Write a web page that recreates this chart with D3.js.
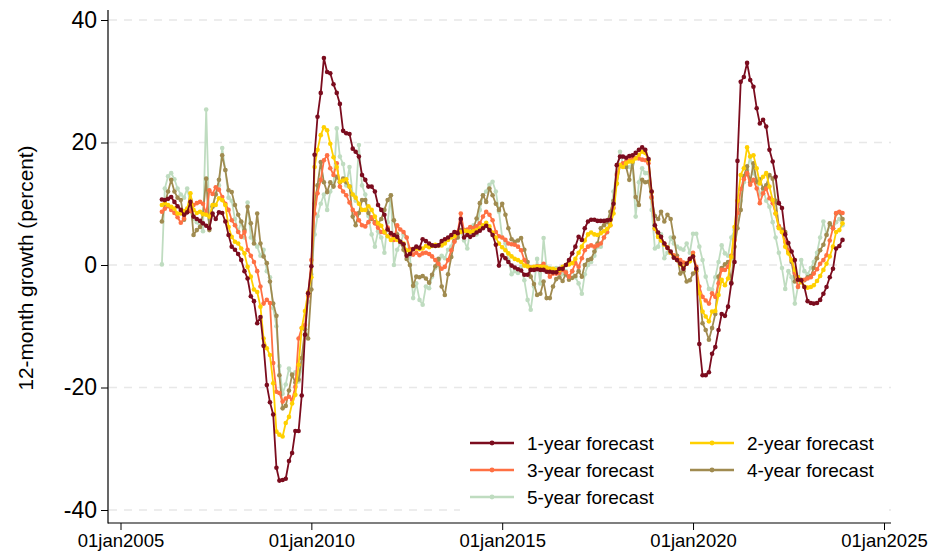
<!DOCTYPE html>
<html>
<head>
<meta charset="utf-8">
<script src="https://cdn.jsdelivr.net/npm/d3@7"></script>
<style>
  html, body { margin: 0; padding: 0; background: #fff; }
  svg { display: block; font-family: "Liberation Sans", Arial, Helvetica, sans-serif; }
</style>
</head>
<body>
<script>
// Monthly observations, February 2006 through December 2023
const startYear = 2006, startMonth = 1; // February (0-based month)

const seriesNames = ["1-year forecast", "2-year forecast", "3-year forecast", "4-year forecast", "5-year forecast"];
const seriesColors = ["#7b0c1e", "#ffd000", "#ff7043", "#a08b50", "#bfdcc0"];

const oneYear = [10.7,10.6,10.8,11.1,10.3,9.6,9.0,8.2,8.6,10.3,7.9,7.5,7.2,6.8,6.4,6.0,8.4,7.5,8.6,8.5,7.1,4.9,3.0,2.5,1.8,0.8,-1.0,-2.2,-5.1,-5.9,-9.5,-8.5,-13.2,-19.6,-22.4,-24.4,-33.1,-35.2,-35.1,-34.9,-32.0,-30.7,-27.1,-27.1,-21.3,-11.4,-4.6,-0.2,18.0,24.2,28.1,33.8,31.5,31.3,29.5,28.1,26.3,21.9,21.5,21.4,19.0,18.5,17.7,14.7,13.9,12.8,12.8,12.0,9.8,9.0,8.2,5.8,5.2,4.9,4.6,3.8,3.4,1.5,1.8,2.6,3.0,2.8,4.2,3.9,3.5,3.2,3.1,3.2,3.9,4.2,4.5,4.9,5.4,5.2,7.5,4.5,4.9,4.6,4.9,5.3,5.6,6.0,6.4,5.7,4.9,3.3,-0.1,1.6,1.1,0.5,-0.1,-0.4,-0.7,-0.9,-1.6,-1.6,-0.8,-0.8,-0.7,-0.8,-0.8,-1.1,-1.1,-1.2,-1.2,-0.6,-0.6,0.0,0.8,1.9,3.0,4.6,4.1,6.0,7.1,7.4,7.4,7.2,7.2,7.2,7.3,7.4,10.0,16.3,17.7,17.7,17.5,17.8,17.9,18.3,18.8,19.2,18.8,17.3,12.0,6.5,5.3,4.6,3.5,2.8,2.2,1.2,0.8,0.2,-0.6,0.2,1.0,1.4,-0.6,-12.9,-18.0,-18.0,-17.5,-14.5,-13.4,-10.6,-8.0,-8.3,-6.8,-3.0,0.5,17.0,29.9,30.7,33.0,30.2,29.1,25.6,23.1,23.7,22.6,18.8,16.9,14.4,10.1,9.3,5.0,3.6,2.2,0.8,-2.4,-2.5,-3.6,-5.9,-6.2,-6.3,-6.2,-5.7,-4.7,-3.6,-2.0,-0.6,2.7,3.1,4.1];

const twoYear = [9.8,10.1,9.8,9.5,9.2,8.4,8.4,8.8,9.2,11.7,9.0,8.5,8.7,8.3,8.2,7.9,9.8,9.8,10.9,10.6,9.8,6.2,4.6,3.8,3.5,2.7,1.9,-0.3,-1.9,-4.0,-4.4,-6.8,-12.0,-13.6,-14.7,-19.3,-27.2,-27.7,-28.0,-25.8,-24.8,-22.6,-21.2,-16.3,-10.3,-7.5,-4.5,-2.0,16.0,18.8,21.2,22.5,22.0,19.8,17.6,16.0,13.6,13.8,14.0,12.8,11.5,11.0,10.0,9.0,9.0,9.6,9.0,7.9,6.8,6.4,5.4,4.7,4.1,4.4,4.1,3.8,3.5,2.4,2.2,2.6,2.7,2.6,2.7,3.1,2.9,3.1,3.3,3.2,3.2,3.5,4.1,4.5,4.7,5.2,5.4,5.6,5.5,5.4,5.5,5.7,6.0,6.5,6.9,6.3,5.3,4.5,3.5,2.9,2.4,1.9,1.4,1.0,0.8,0.5,-0.1,-0.2,-0.4,-0.3,-0.3,-0.3,-0.3,-0.4,-0.6,-0.6,-0.8,-0.8,-0.3,0.0,0.1,0.3,1.0,2.0,3.0,4.0,5.0,5.3,5.0,4.9,5.2,5.5,5.9,6.5,8.4,13.3,16.3,16.0,16.6,16.9,16.9,17.4,18.0,18.5,18.3,17.1,11.9,6.0,4.6,4.0,3.3,2.8,2.0,1.3,0.8,0.1,-0.4,0.2,0.6,1.5,-0.8,-4.6,-7.6,-8.4,-9.2,-7.6,-7.5,-4.9,-2.4,-3.3,-2.2,1.3,6.2,10.5,14.7,15.8,19.2,17.7,17.9,15.8,13.3,14.4,15.0,12.8,10.6,8.4,6.0,5.4,3.0,1.9,0.8,-0.8,-2.0,-2.8,-3.5,-3.7,-3.6,-3.3,-2.6,-1.8,-0.8,0.2,1.4,3.0,5.4,5.7,6.8];

const threeYear = [8.7,9.2,9.6,9.0,8.5,7.8,6.9,7.6,9.0,8.8,9.8,10.1,10.3,10.0,8.4,12.2,11.6,12.7,12.3,11.1,10.0,9.0,7.3,6.5,5.4,4.6,5.4,2.5,1.5,0.5,-1.0,-3.5,-6.3,-5.7,-6.2,-16.0,-20.7,-20.9,-22.3,-21.8,-21.5,-22.0,-19.9,-12.0,-10.3,-9.8,-5.0,0.8,8.4,11.7,13.9,17.1,17.9,15.8,14.7,16.6,12.8,12.0,11.4,10.2,9.0,8.4,7.3,6.5,6.3,7.0,7.8,6.8,6.1,5.4,5.3,6.1,5.0,4.1,6.5,5.8,5.4,4.5,2.6,1.7,2.0,1.6,1.9,2.0,1.8,1.4,0.8,0.2,-0.6,-0.3,0.8,2.4,3.8,5.4,8.4,5.6,5.8,6.2,6.0,6.3,6.8,7.9,8.7,8.2,7.3,5.4,4.7,4.5,4.1,3.5,3.4,3.3,3.0,2.4,0.8,-0.2,-0.4,-0.5,-0.2,-0.2,0.2,-0.9,-1.9,-1.4,-1.4,-1.3,-0.8,-1.2,-1.9,-1.0,0.3,-0.3,1.1,2.4,3.0,3.2,3.0,3.2,3.5,4.5,5.4,6.5,9.3,14.7,16.3,16.6,16.9,17.1,17.4,17.5,17.4,17.2,17.1,16.6,11.1,5.9,4.6,4.1,3.5,2.9,2.0,1.6,1.1,0.8,0.4,0.3,0.9,2.0,-0.3,-3.5,-5.2,-5.8,-6.3,-4.6,-5.2,-3.0,-0.8,-0.8,-0.3,1.5,4.1,8.5,12.4,14.0,15.0,13.1,13.9,12.5,10.1,11.7,12.5,10.9,10.1,8.4,6.3,5.4,3.8,2.4,0.8,-1.3,-3.6,-2.6,-2.4,-2.2,-2.0,-1.4,-0.7,0.2,0.8,1.6,4.0,6.0,8.5,8.7,8.5];

const fourYear = [7.1,10.0,12.0,13.9,12.0,11.0,10.6,7.4,9.0,10.6,4.9,5.7,6.2,8.4,14.1,5.7,9.5,11.5,13.9,17.9,15.5,12.2,11.9,9.8,8.2,7.1,5.7,9.5,6.8,3.5,8.4,3.5,1.4,0.3,-2.7,-6.3,-8.3,-18.0,-23.4,-23.0,-20.5,-17.9,-19.2,-18.7,-15.2,-10.5,-12.0,-4.0,10.0,13.0,16.8,13.5,11.9,13.5,12.8,14.4,13.5,14.1,13.5,12.8,7.9,6.5,8.5,10.6,10.6,8.5,7.5,7.0,6.8,7.5,9.0,10.6,11.4,7.3,5.0,3.8,2.5,1.0,0.0,-3.4,-1.9,-2.0,-1.8,-2.2,-2.9,-1.6,-0.2,1.0,-3.5,-4.9,-1.5,1.3,3.9,4.5,5.7,5.7,5.5,5.4,6.0,7.6,10.1,11.4,10.3,12.5,11.4,10.0,9.0,10.0,8.2,6.0,4.2,3.8,4.0,4.4,2.5,0.5,-1.9,-3.1,-4.9,-4.7,-2.7,-5.4,-5.4,-3.5,-2.3,-2.0,-2.6,-1.5,-2.4,-2.1,-1.8,-1.0,-1.9,0.0,0.8,1.0,2.2,3.5,6.0,6.5,7.0,8.7,10.5,13.3,16.3,16.5,16.0,13.9,16.8,11.1,9.8,13.9,13.5,13.6,11.0,8.0,7.5,8.7,7.1,8.2,7.5,4.5,1.5,-1.4,-1.0,-2.7,-2.5,-1.4,-1.0,-4.5,-9.5,-10.6,-12.2,-10.3,-8.0,-1.9,-0.5,0.1,0.5,-2.9,3.0,6.0,9.0,14.5,16.1,13.5,16.6,13.5,14.0,12.5,13.0,14.7,14.1,10.5,6.3,5.8,5.4,2.2,0.5,-2.7,-2.0,-2.4,-2.5,-2.0,-1.8,-0.5,1.1,2.4,3.3,4.9,6.8,6.0,8.4,8.6,7.5];

const fiveYear = [0.1,12.5,14.5,15.0,14.0,12.5,11.5,11.0,12.5,10.0,7.5,7.0,6.3,5.5,25.4,7.5,9.6,11.6,13.0,19.1,15.5,11.0,10.5,7.5,5.5,7.0,4.5,10.2,4.5,4.0,3.0,1.5,2.5,-1.0,-2.0,-7.0,-10.0,-16.5,-21.0,-19.5,-16.9,-18.0,-17.5,-19.0,-17.0,-10.5,-6.0,-1.5,5.0,8.0,10.0,11.5,9.0,12.0,13.0,22.3,17.7,16.5,13.0,16.0,11.5,10.5,19.6,13.0,11.5,8.0,5.0,3.0,5.5,4.5,2.0,7.0,11.4,0.0,2.5,3.5,5.0,4.5,1.5,-5.4,-3.0,-5.7,-6.5,-3.5,-3.8,-1.9,-0.5,0.0,1.5,1.1,2.5,3.0,5.0,4.5,5.5,4.0,2.7,5.5,6.5,5.0,9.0,11.4,12.0,13.1,13.6,12.0,8.7,4.5,3.5,0.8,-1.5,-1.0,-1.3,-0.3,-2.5,-5.7,-7.3,-3.5,1.0,-3.0,4.4,-0.5,-0.5,-1.0,-0.5,-1.0,-1.5,-1.0,-2.0,-1.0,-2.0,-3.0,-4.7,-1.5,0.0,0.5,1.5,3.0,3.0,4.5,5.3,8.0,12.0,15.0,18.5,16.5,16.0,16.0,16.5,7.9,13.5,15.8,15.0,15.0,9.0,2.7,3.0,5.0,1.1,2.0,4.5,3.5,3.0,2.7,2.5,3.5,2.0,5.1,5.1,3.0,0.8,-1.9,-3.9,-4.0,-2.0,0.5,3.2,1.9,1.5,4.5,5.7,7.5,10.5,13.5,15.5,17.7,15.0,14.0,11.5,12.5,10.5,9.5,7.0,4.5,2.0,-0.5,-3.9,-1.0,-2.0,-6.3,-3.5,0.8,-1.0,-1.5,-0.5,0.5,2.0,4.5,7.1,5.0,6.5,6.0,7.0,7.5,6.5];

const seriesValues = [oneYear, twoYear, threeYear, fourYear, fiveYear];

const yTicks = [-40, -20, 0, 20, 40];
const xTickYears = [2005, 2010, 2015, 2020, 2025];
const xTickLabels = ["01jan2005", "01jan2010", "01jan2015", "01jan2020", "01jan2025"];
const yTitle = "12-month growth (percent)";

// ---- layout ----
const W = 929, H = 556;
const axisX = 108, axisY = 523, plotTop = 10, plotRight = 891;

const svg = d3.select("body").append("svg").attr("width", W).attr("height", H);

const x = d3.scaleTime()
  .domain([new Date(2005, 0, 1), new Date(2025, 0, 1)])
  .range([120.5, 884]);
const y = d3.scaleLinear().domain([-40, 40]).range([510, 20]);

const dates = oneYear.map((_, i) => new Date(startYear, startMonth + i, 1));

// horizontal grid
svg.append("g").selectAll("line").data(yTicks).join("line")
  .attr("x1", axisX + 1).attr("x2", plotRight)
  .attr("y1", d => y(d)).attr("y2", d => y(d))
  .attr("stroke", "#e8e8e8").attr("stroke-width", 1.5)
  .attr("stroke-dasharray", "8,7");

// series: drawn from longest horizon to shortest so the 1-year line sits on top
const line = d3.line().x((d, i) => x(dates[i])).y(d => y(d));
const order = [4, 3, 2, 1, 0];
order.forEach(k => {
  const g = svg.append("g");
  g.append("path").datum(seriesValues[k])
    .attr("d", line).attr("fill", "none")
    .attr("stroke", seriesColors[k]).attr("stroke-width", 1.8)
    .attr("stroke-linejoin", "round");
  g.selectAll("circle").data(seriesValues[k]).join("circle")
    .attr("cx", (d, i) => x(dates[i])).attr("cy", d => y(d))
    .attr("r", 2.3).attr("fill", seriesColors[k]);
});

// axes
const yAxis = d3.axisLeft(y).tickValues(yTicks).tickSize(7).tickPadding(4).tickSizeOuter(0)
  .tickFormat(d => String(d));
const gy = svg.append("g").attr("transform", `translate(${axisX},0)`).call(yAxis);
gy.select(".domain").remove();
gy.selectAll(".tick line").attr("stroke", "#000").attr("stroke-width", 1);
gy.selectAll(".tick text").attr("font-size", 23).attr("fill", "#000")
  .attr("font-family", "'Liberation Sans', Arial, sans-serif");

const xTickDates = xTickYears.map(yr => new Date(yr, 0, 1));
const xAxis = d3.axisBottom(x).tickValues(xTickDates).tickSize(7).tickPadding(4).tickSizeOuter(0)
  .tickFormat((d, i) => xTickLabels[i]);
const gx = svg.append("g").attr("transform", `translate(0,${axisY})`).call(xAxis);
gx.select(".domain").remove();
gx.selectAll(".tick line").attr("stroke", "#000").attr("stroke-width", 1);
gx.selectAll(".tick text").attr("font-size", 18.5).attr("fill", "#000")
  .attr("font-family", "'Liberation Sans', Arial, sans-serif");

svg.append("line").attr("x1", axisX).attr("x2", axisX).attr("y1", plotTop).attr("y2", axisY + 0.5)
  .attr("stroke", "#000").attr("stroke-width", 1.2);
svg.append("line").attr("x1", axisX).attr("x2", plotRight).attr("y1", axisY).attr("y2", axisY)
  .attr("stroke", "#000").attr("stroke-width", 1.2);

svg.append("text")
  .attr("transform", `translate(33,268) rotate(-90)`)
  .attr("text-anchor", "middle").attr("font-size", 20.8).attr("fill", "#000")
  .text(yTitle);

// legend
const legend = svg.append("g");
legend.append("rect").attr("x", 460).attr("y", 426).attr("width", 428).attr("height", 86).attr("fill", "#fff");
const legPos = [[470, 443], [690, 443], [470, 470], [690, 470], [470, 497]];
seriesNames.forEach((name, k) => {
  const [lx, ly] = legPos[k];
  legend.append("line").attr("x1", lx).attr("x2", lx + 44).attr("y1", ly).attr("y2", ly)
    .attr("stroke", seriesColors[k]).attr("stroke-width", 2.6);
  legend.append("circle").attr("cx", lx + 22).attr("cy", ly).attr("r", 2.4).attr("fill", seriesColors[k]);
  legend.append("text").attr("x", lx + 57).attr("y", ly).attr("dy", "0.35em")
    .attr("font-size", 19).attr("fill", "#000").text(name);
});
</script>
</body>
</html>
